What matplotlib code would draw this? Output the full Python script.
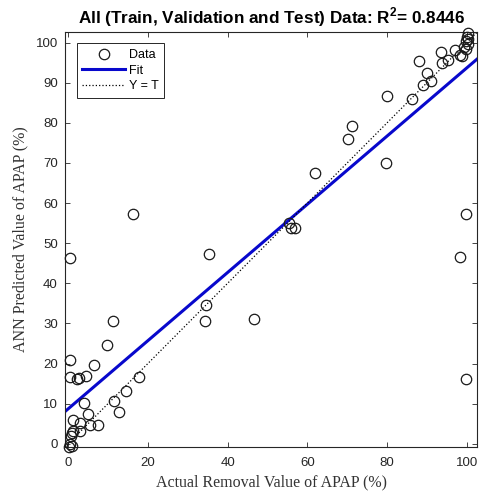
import matplotlib
matplotlib.use("Agg")
import matplotlib.pyplot as plt
import numpy as np

plt.rcParams['mathtext.fontset'] = 'custom'
plt.rcParams['mathtext.rm'] = 'Liberation Sans'
plt.rcParams['mathtext.bf'] = 'Liberation Sans:bold'

# Data (Actual %, Predicted %)
actual = [0.6, 0.6, 0.6, 2.2, 2.7, 4.5, 6.6, 9.75, 11.2, 16.3, 17.8, 14.5, 11.4, 12.7,
          4.1, 4.9, 1.2, 3.1, 5.6, 7.5, 1.3, 1.0, 3.0, 0.75, 0.5, 1.0, 0.3,
          34.3, 34.5, 35.3, 46.6, 55.5, 55.8, 57.0, 62.0, 70.1, 71.2, 79.75, 79.9,
          86.3, 88.1, 88.9, 89.9, 90.9, 93.5, 93.7, 95.3, 97.0, 98.25, 98.7, 99.3,
          99.9, 100.3, 100.3, 100.0, 99.8, 100.2, 99.75, 98.25, 99.75]
predicted = [46.4, 21.0, 16.6, 16.2, 16.4, 17.0, 19.75, 24.75, 30.5, 57.2, 16.7, 13.25, 10.75, 8.0,
             10.3, 7.4, 6.0, 5.3, 4.7, 4.75, 3.25, 2.8, 3.1, 2.0, 0.0, -0.5, -0.75,
             30.5, 34.5, 47.2, 31.2, 55.0, 53.8, 53.7, 67.4, 75.9, 79.1, 69.9, 86.75,
             86.0, 95.3, 89.5, 92.3, 90.3, 97.7, 95.0, 95.75, 98.25, 97.0, 96.6, 99.0,
             100.3, 100.8, 102.3, 101.5, 98.5, 99.6, 57.25, 46.5, 16.2]

fit_slope = 0.85
fit_intercept = 8.7
r2_text = "0.8446"

lims = (-0.8, 102.6)
xticks = [0, 20, 40, 60, 80, 100]
yticks = [0, 10, 20, 30, 40, 50, 60, 70, 80, 90, 100]

fig = plt.figure(figsize=(4.84, 4.94), dpi=100)
ax = fig.add_axes([0.134, 0.095, 0.852, 0.840])

xs = np.array(lims)
ax.plot(actual, predicted, 'o', mfc='none', mec='#1a1a1a', ms=7.5, mew=0.9, label='Data', zorder=3, clip_on=False)
ax.plot(xs, fit_slope * xs + fit_intercept, '-', color='#0808cc', lw=2.2, label='Fit', zorder=2)
ax.plot(xs, xs, ':', color='black', lw=0.9, label='Y = T', zorder=2)

ax.set_xlim(lims)
ax.set_ylim(lims)
ax.set_xticks(xticks)
ax.set_yticks(yticks)

sans = ['Liberation Sans', 'DejaVu Sans']
serif = ['Liberation Serif', 'DejaVu Serif']
ax.tick_params(direction='in', length=3.5, width=0.6, top=True, right=True,
               labelsize=9.5, labelcolor='#262626', color='#262626')
ax.tick_params(axis='x', pad=7)
ax.tick_params(axis='y', pad=5)
for lab in ax.get_xticklabels() + ax.get_yticklabels():
    lab.set_family(sans)
for sp in ax.spines.values():
    sp.set_linewidth(0.8)
    sp.set_color('#262626')

ax.set_title(r"All (Train, Validation and Test) Data: R$^{\mathbf{2}}$= " + r2_text,
             fontsize=12.3, fontweight='bold', family=sans, pad=6)
ax.set_xlabel("Actual Removal Value of APAP (%)", fontsize=11.5, family=serif,
              color='#333333', labelpad=4)
ax.set_ylabel("ANN Predicted Value of APAP (%)", fontsize=11.5, family=serif,
              color='#333333', labelpad=5)

leg = ax.legend(loc='upper left', bbox_to_anchor=(0.029, 0.973), borderaxespad=0,
                fancybox=False, edgecolor='#262626', framealpha=1, handlelength=3.4,
                handletextpad=0.3, borderpad=0.45, labelspacing=0.3, numpoints=1,
                prop={'family': sans, 'size': 9})
leg.get_frame().set_linewidth(0.7)

fig.savefig("out.png", dpi=100)
